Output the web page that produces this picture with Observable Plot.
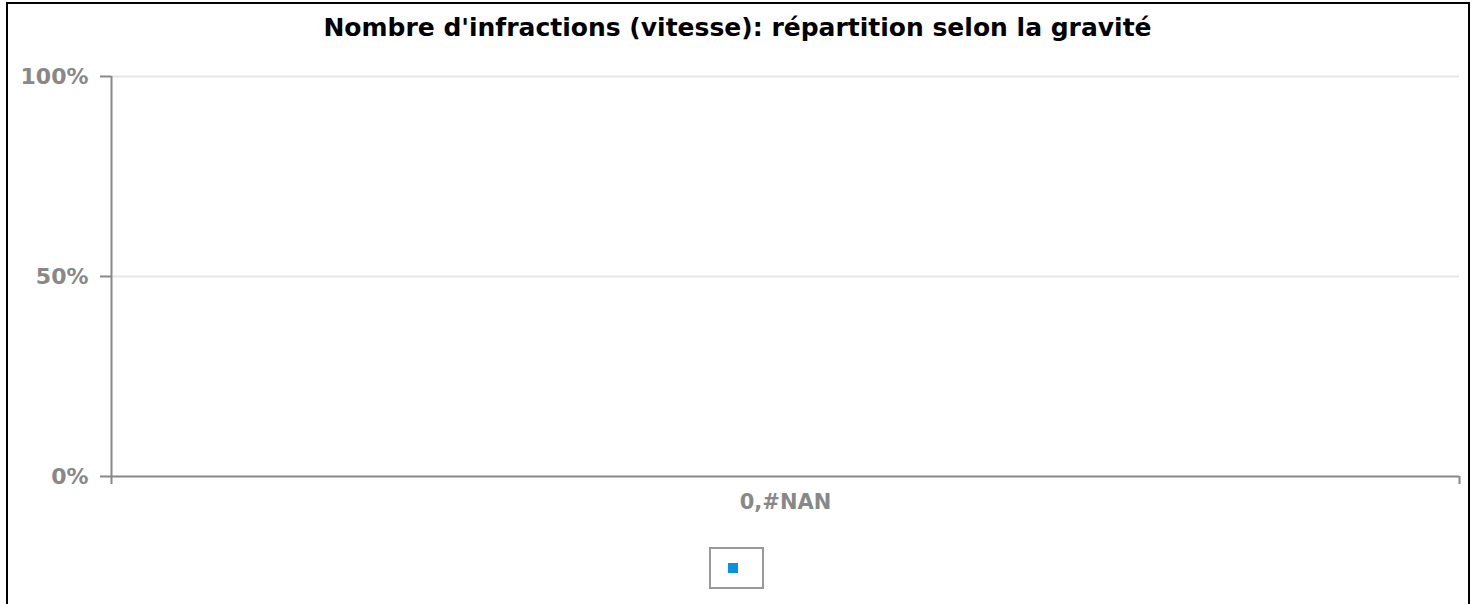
<!DOCTYPE html>
<html><head><meta charset="utf-8">
<script src="https://cdn.jsdelivr.net/npm/d3@7"></script>
<script src="https://cdn.jsdelivr.net/npm/@observablehq/plot@0.6"></script>
<style>
body{margin:0;background:#fff;font-family:"DejaVu Sans",sans-serif;}
#wrap{position:relative;width:1475px;height:604px;overflow:hidden;}
#border{position:absolute;left:6px;top:2px;width:1460px;height:640px;border:2px solid #000;box-sizing:content-box;}
#title{position:absolute;left:0;top:0;width:1475px;height:60px;line-height:56px;text-align:center;font-weight:bold;font-size:25px;color:#000;white-space:nowrap;}
#chart{position:absolute;left:0;top:60px;}
#legend{position:absolute;left:709px;top:547px;width:51px;height:38px;border:2px solid #999;}
#legend span{position:absolute;left:17px;top:14px;width:10px;height:10px;}
</style></head>
<body><div id="wrap"><div id="border"></div><div id="title"></div><div id="chart"></div><div id="legend"></div></div>
<script>
const title = "Nombre d'infractions (vitesse): répartition selon la gravité";
const categories = ["0,#NAN"];
const seriesNames = [""];
const seriesValues = [0];
const seriesColors = ["#0a93dc"];
const yTicks = [0, 0.5, 1];
const yTickLabels = ["0%", "50%", "100%"];

document.getElementById("title").textContent = title;
const data = categories.map((c, i) => ({i, c, v: seriesValues[i]}));
const plot = Plot.plot({
  width: 1475, height: 470,
  marginLeft: 111, marginRight: 16, marginTop: 16, marginBottom: 54,
  style: {fontFamily: "DejaVu Sans", fontWeight: "bold", fontSize: "22px", color: "#888", background: "transparent"},
  x: {domain: [0, categories.length], axis: null},
  y: {domain: [0, 1], axis: null},
  marks: [
    Plot.ruleY(yTicks.filter(t => t > 0), {stroke: "#e6e6e6", strokeWidth: 2}),
    Plot.rectY(data, {x1: d => d.i, x2: d => d.i + 1, y: "v", fill: seriesColors[0]}),
    Plot.axisY({ticks: yTicks, label: null, tickFormat: d => yTickLabels[yTicks.indexOf(d)], tickSize: 11, tickPadding: 12, stroke: "#888", strokeWidth: 2, fill: "#888", fontSize: 22, fontWeight: "bold"}),
    Plot.ruleX([0], {stroke: "#888", strokeWidth: 2}),
    Plot.ruleY([0], {stroke: "#888", strokeWidth: 2}),
    Plot.axisX({ticks: d3.range(categories.length + 1), label: null, tickFormat: () => "", tickSize: 8, stroke: "#888", strokeWidth: 2}),
    Plot.axisX({ticks: data.map(d => d.i + 0.5), label: null, tickFormat: d => categories[d - 0.5], tickSize: 0, tickPadding: 18, fill: "#888", fontSize: 21, fontWeight: "bold"})
  ]
});
document.getElementById("chart").appendChild(plot);
const lg = document.getElementById("legend");
seriesNames.forEach((n, k) => { const s = document.createElement("span"); s.style.background = seriesColors[k]; s.title = n; lg.appendChild(s); });
</script></body></html>
